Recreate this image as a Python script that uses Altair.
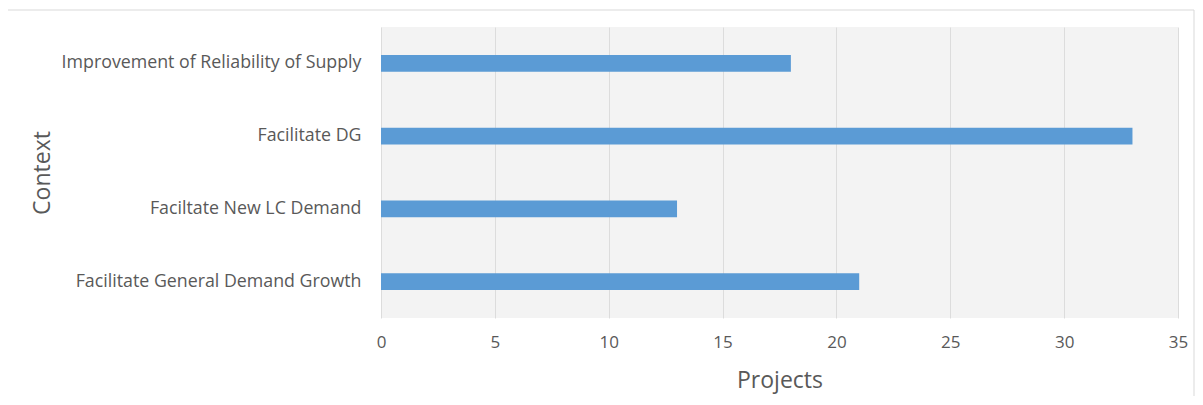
import altair as alt
import pandas as pd

categories = [
    "Improvement of Reliability of Supply",
    "Facilitate DG",
    "Faciltate New LC Demand",
    "Facilitate General Demand Growth",
]
projects = [18, 33, 13, 21]
x_ticks = [0, 5, 10, 15, 20, 25, 30, 35]

df = pd.DataFrame({"Context": categories, "Projects": projects})

FONT = "Open Sans"
TXT = "#595959"

bars = alt.Chart(df).mark_bar(color="#5b9bd5").encode(
    x=alt.X(
        "Projects:Q",
        scale=alt.Scale(domain=[0, 35], nice=False),
        axis=alt.Axis(
            values=x_ticks,
            title="Projects",
            grid=True,
            gridColor="#dcdcdc",
            gridWidth=1,
            domain=False,
            ticks=False,
            labelPadding=16,
            labelFontSize=17,
            labelColor=TXT,
            labelFont=FONT,
            titleFont=FONT,
            titleFontSize=23,
            titleFontWeight="normal",
            titleColor=TXT,
            titleY=62,
            titleBaseline="middle",
            labelFlush=False,
        ),
    ),
    y=alt.Y(
        "Context:N",
        sort=categories,
        scale=alt.Scale(paddingInner=0.77, paddingOuter=0.385),
        axis=alt.Axis(
            title="Context",
            domain=False,
            ticks=False,
            grid=False,
            labelPadding=20,
            labelFontSize=17.8,
            labelColor=TXT,
            labelFont=FONT,
            labelLimit=400,
            titleFont=FONT,
            titleFontSize=23,
            titleFontWeight="normal",
            titleColor=TXT,
            titleX=-339,
            titleAlign="center",
            titleBaseline="middle",
        ),
    ),
)

frame = alt.Chart(pd.DataFrame({"f": [0]})).mark_rect(
    fill=None, stroke="#d9d9d9", strokeWidth=1
).encode(
    x=alt.value(-375),
    x2=alt.value(813),
    y=alt.value(-17),
    y2=alt.value(400),
)

chart = alt.layer(frame, bars).properties(
    width=797,
    height=291,
    autosize=alt.AutoSizeParams(type="none"),
    padding={"left": 373, "top": 19, "right": 17, "bottom": 78},
).configure(background="white").configure_view(
    fill="#f3f3f3",
    stroke=None,
)

chart.save("out.html", embed_options={"renderer": "svg", "actions": False})
